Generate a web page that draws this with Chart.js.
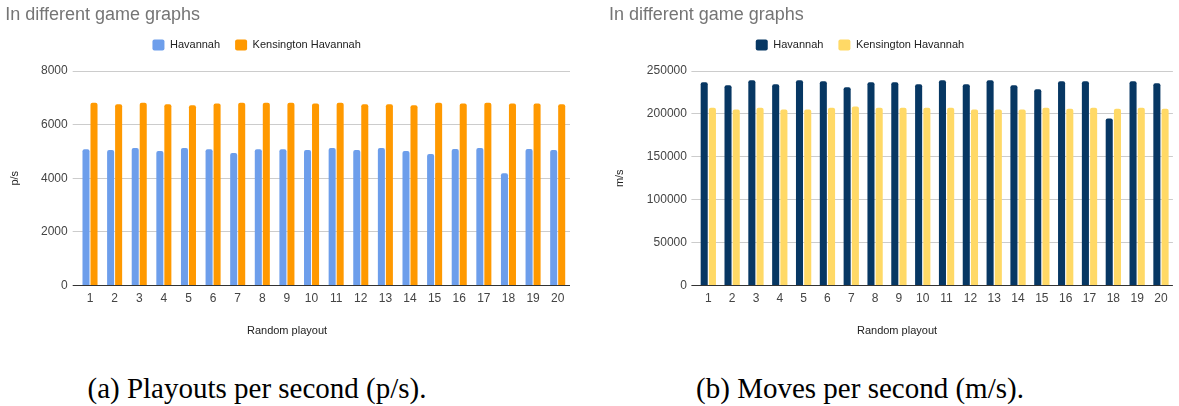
<!DOCTYPE html>
<html>
<head>
<meta charset="utf-8">
<script src="https://cdn.jsdelivr.net/npm/chart.js@4"></script>
<style>
  html, body { margin: 0; padding: 0; background: #fff; width: 1179px; height: 406px; overflow: hidden; }
  .panel { position: absolute; top: 0; width: 590px; height: 345px; }
  .cap { position: absolute; top: 373.5px; font-family: 'Liberation Serif', 'Times New Roman', serif; font-size: 29px; line-height: 29px; color: #000; white-space: nowrap; transform: translateX(-50%); }
</style>
</head>
<body>
<div class="panel" style="left:0"><canvas id="playouts" width="590" height="345"></canvas></div>
<div class="panel" style="left:590px"><canvas id="moves" width="590" height="345"></canvas></div>
<div class="cap" style="left:257px">(a) Playouts per second (p/s).</div>
<div class="cap" style="left:860px">(b) Moves per second (m/s).</div>
<script>
// Random playout runs 1..20
const categories = ['1', '2', '3', '4', '5', '6', '7', '8', '9', '10',
                    '11', '12', '13', '14', '15', '16', '17', '18', '19', '20'];
const seriesNames = ['Havannah', 'Kensington Havannah'];

// Playouts per second
const playoutsHavannah   = [5080, 5055, 5130, 5020, 5130, 5080, 4945, 5080, 5080, 5055,
                            5130, 5055, 5130, 5020, 4905, 5090, 5130, 4185, 5090, 5055];
const playoutsKensington = [6820, 6760, 6820, 6760, 6720, 6785, 6820, 6820, 6820, 6785,
                            6820, 6760, 6760, 6720, 6820, 6790, 6820, 6790, 6790, 6760];

// Moves per second
const movesHavannah   = [236900, 233400, 239200, 234500, 239200, 238000, 231000, 236900, 236900, 234500,
                         239200, 234500, 239200, 233400, 228700, 238000, 238000, 194500, 238000, 235700];
const movesKensington = [207300, 205000, 207300, 205000, 205000, 207300, 208500, 207300, 207300, 207300,
                         207300, 205000, 205000, 205000, 207300, 206100, 207300, 206100, 207300, 206100];

// Value axis tick labels
const playoutTicks = [0, 2000, 4000, 6000, 8000];
const moveTicks = [0, 50000, 100000, 150000, 200000, 250000];

const chartTitle = 'In different game graphs';
const xAxisTitle = 'Random playout';

Chart.defaults.font.family = "'Liberation Sans', Arial, sans-serif";

// Shifts the legend row sideways and draws the category axis caption.
const panelDecor = {
  id: 'panelDecor',
  afterLayout(chart, args, opts) {
    const lg = chart.legend;
    if (lg) { lg.left += opts.legendShift; lg.right += opts.legendShift; }
  },
  afterDraw(chart, args, opts) {
    const ctx = chart.ctx;
    ctx.save();
    ctx.font = "11px 'Liberation Sans', Arial, sans-serif";
    ctx.fillStyle = '#222';
    ctx.textAlign = 'center';
    ctx.textBaseline = 'middle';
    ctx.fillText(opts.text, opts.x, opts.y);
    ctx.restore();
  }
};

function makeChart(id, s) {
  const step = s.ticks[1] - s.ticks[0];
  return new Chart(document.getElementById(id), {
    type: 'bar',
    data: {
      labels: categories,
      datasets: [
        { label: seriesNames[0], data: s.first, backgroundColor: s.colors[0], borderRadius: 2,
          categoryPercentage: s.catPct, barPercentage: s.barPct },
        { label: seriesNames[1], data: s.second, backgroundColor: s.colors[1], borderRadius: 2,
          categoryPercentage: s.catPct, barPercentage: s.barPct }
      ]
    },
    plugins: [panelDecor],
    options: {
      responsive: false,
      devicePixelRatio: 1,
      animation: false,
      layout: { padding: { left: s.padL, right: s.padR, top: 0, bottom: 0 } },
      plugins: {
        title: {
          display: true, text: chartTitle, align: 'start', color: '#757575',
          font: { size: 18, weight: 'normal', lineHeight: 1 },
          padding: { top: 6, bottom: 0.5 }
        },
        // empty band between the legend and the plot area
        subtitle: {
          display: true, text: '', weight: 500,
          font: { size: 10.5, lineHeight: 1 }, padding: 0
        },
        legend: {
          position: 'top', align: 'center',
          labels: { boxWidth: 12, boxHeight: 11, padding: 15, color: '#222',
                    font: { size: 11 }, useBorderRadius: true, borderRadius: 2 }
        },
        tooltip: { enabled: false },
        panelDecor: { legendShift: -31, text: xAxisTitle, x: s.xTitleX, y: 331 }
      },
      scales: {
        x: {
          grid: { display: false, drawTicks: false },
          border: { display: false },
          ticks: { color: '#444', font: { size: 12 }, padding: 5.6, maxRotation: 0, autoSkip: false },
          afterFit: sc => { sc.height = 59.5; }
        },
        y: {
          min: s.ticks[0], max: s.ticks[s.ticks.length - 1],
          ticks: { stepSize: step, color: '#444', font: { size: 12 }, padding: s.tickPad,
                   callback: v => String(v) },
          grid: { color: c => (c.tick && c.tick.value === 0) ? '#333' : '#ccc', tickLength: 5 },
          border: { display: false },
          title: { display: true, text: s.yTitle, color: '#222', font: { size: 11 },
                   padding: { top: s.yTitlePad, bottom: 0 } },
          afterFit: sc => { sc.width = s.yWidth; }
        }
      }
    }
  });
}

makeChart('playouts', {
  first: playoutsHavannah, second: playoutsKensington,
  colors: ['#6d9eeb', '#ff9900'], ticks: playoutTicks, yTitle: 'p/s',
  padL: 5.3, padR: 20, yWidth: 72.4, tickPad: 5, yTitlePad: 3.1,
  catPct: 0.65, barPct: 0.88, xTitleX: 287
});

makeChart('moves', {
  first: movesHavannah, second: movesKensington,
  colors: ['#073763', '#ffd966'], ticks: moveTicks, yTitle: 'm/s',
  padL: 19, padR: 7.1, yWidth: 87.4, tickPad: 4.5, yTitlePad: 4.4,
  catPct: 0.69, barPct: 0.86, xTitleX: 307
});
</script>
</body>
</html>
